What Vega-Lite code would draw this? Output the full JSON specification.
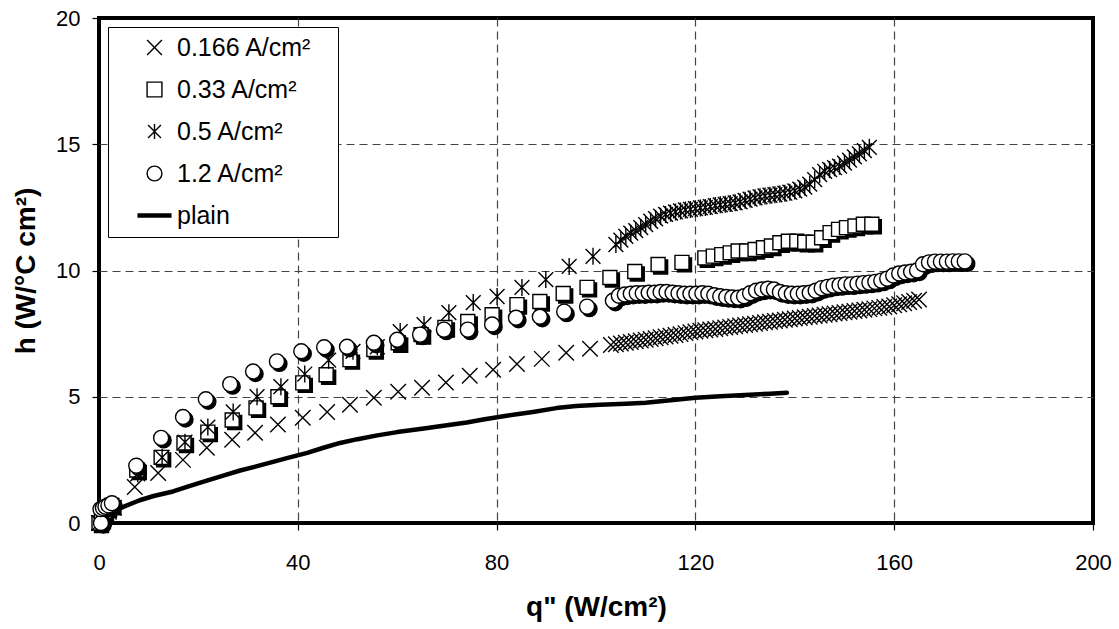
{
  "$schema": "https://vega.github.io/schema/vega-lite/v6.json",
  "width": 994,
  "height": 505,
  "autosize": {"type": "none"},
  "padding": {"left": 99, "top": 18, "right": 26, "bottom": 106},
  "background": "white",
  "config": {
    "font": "Liberation Sans",
    "view": {"stroke": "black", "strokeWidth": 4},
    "axis": {
      "domain": false,
      "grid": true,
      "gridColor": "#444444",
      "gridDash": [8, 5],
      "gridWidth": 1.2,
      "gridOpacity": {"condition": {"test": "datum.value === 0 || datum.value === 200 || datum.value === 20", "value": 0}, "value": 1},
      "ticks": true,
      "tickColor": "black",
      "tickSize": 7,
      "tickWidth": 1.2,
      "labelFont": "Liberation Sans",
      "labelFontSize": 22,
      "labelColor": "black",
      "labelFlush": false,
      "titleFont": "Liberation Sans",
      "titleFontSize": 28,
      "titleFontWeight": "bold",
      "titleColor": "black"
    }
  },
  "datasets": {
    "pts": [
      {"series": "plain", "q": 0, "h": 0},
      {"series": "plain", "q": 1, "h": 0.2},
      {"series": "plain", "q": 2.2, "h": 0.4},
      {"series": "plain", "q": 5, "h": 0.65},
      {"series": "plain", "q": 8.2, "h": 0.9},
      {"series": "plain", "q": 11, "h": 1.07},
      {"series": "plain", "q": 14.9, "h": 1.25},
      {"series": "plain", "q": 18, "h": 1.45},
      {"series": "plain", "q": 21.7, "h": 1.68},
      {"series": "plain", "q": 25, "h": 1.88},
      {"series": "plain", "q": 28.4, "h": 2.08},
      {"series": "plain", "q": 32, "h": 2.26},
      {"series": "plain", "q": 35, "h": 2.42},
      {"series": "plain", "q": 38, "h": 2.58},
      {"series": "plain", "q": 41.9, "h": 2.78},
      {"series": "plain", "q": 45, "h": 2.97},
      {"series": "plain", "q": 48.5, "h": 3.17},
      {"series": "plain", "q": 52, "h": 3.32},
      {"series": "plain", "q": 56, "h": 3.47},
      {"series": "plain", "q": 60, "h": 3.6},
      {"series": "plain", "q": 65, "h": 3.73},
      {"series": "plain", "q": 70, "h": 3.87},
      {"series": "plain", "q": 74, "h": 3.98},
      {"series": "plain", "q": 77.3, "h": 4.1},
      {"series": "plain", "q": 82, "h": 4.25},
      {"series": "plain", "q": 87.3, "h": 4.4},
      {"series": "plain", "q": 92, "h": 4.55},
      {"series": "plain", "q": 96, "h": 4.63},
      {"series": "plain", "q": 100.8, "h": 4.68},
      {"series": "plain", "q": 106, "h": 4.72},
      {"series": "plain", "q": 110, "h": 4.76},
      {"series": "plain", "q": 115, "h": 4.86},
      {"series": "plain", "q": 120, "h": 4.96},
      {"series": "plain", "q": 125, "h": 5.02},
      {"series": "plain", "q": 130, "h": 5.07},
      {"series": "plain", "q": 135, "h": 5.12},
      {"series": "plain", "q": 138.4, "h": 5.16},

      {"series": "0.166 A/cm²", "q": 0, "h": 0},
      {"series": "0.166 A/cm²", "q": 0.6, "h": 0.15},
      {"series": "0.166 A/cm²", "q": 1.2, "h": 0.3},
      {"series": "0.166 A/cm²", "q": 2, "h": 0.45},
      {"series": "0.166 A/cm²", "q": 3, "h": 0.6},
      {"series": "0.166 A/cm²", "q": 7.2, "h": 1.43},
      {"series": "0.166 A/cm²", "q": 11.9, "h": 1.98},
      {"series": "0.166 A/cm²", "q": 16.9, "h": 2.5},
      {"series": "0.166 A/cm²", "q": 21.7, "h": 2.98},
      {"series": "0.166 A/cm²", "q": 26.8, "h": 3.3},
      {"series": "0.166 A/cm²", "q": 31.4, "h": 3.57},
      {"series": "0.166 A/cm²", "q": 36, "h": 3.9},
      {"series": "0.166 A/cm²", "q": 41, "h": 4.17},
      {"series": "0.166 A/cm²", "q": 45.9, "h": 4.4},
      {"series": "0.166 A/cm²", "q": 50.5, "h": 4.68},
      {"series": "0.166 A/cm²", "q": 55.3, "h": 4.96},
      {"series": "0.166 A/cm²", "q": 60.2, "h": 5.2},
      {"series": "0.166 A/cm²", "q": 65, "h": 5.36},
      {"series": "0.166 A/cm²", "q": 69.8, "h": 5.56},
      {"series": "0.166 A/cm²", "q": 74.6, "h": 5.83},
      {"series": "0.166 A/cm²", "q": 79.3, "h": 6.07},
      {"series": "0.166 A/cm²", "q": 84.1, "h": 6.3},
      {"series": "0.166 A/cm²", "q": 89.1, "h": 6.5},
      {"series": "0.166 A/cm²", "q": 94, "h": 6.74},
      {"series": "0.166 A/cm²", "q": 98.8, "h": 6.9},
      {"series": "0.166 A/cm²", "q": 103, "h": 7.05},
      {"series": "0.166 A/cm²", "q": 104, "h": 7.08},
      {"series": "0.166 A/cm²", "q": 105, "h": 7.11},
      {"series": "0.166 A/cm²", "q": 106, "h": 7.14},
      {"series": "0.166 A/cm²", "q": 107, "h": 7.17},
      {"series": "0.166 A/cm²", "q": 108, "h": 7.2},
      {"series": "0.166 A/cm²", "q": 109, "h": 7.23},
      {"series": "0.166 A/cm²", "q": 110, "h": 7.26},
      {"series": "0.166 A/cm²", "q": 111, "h": 7.29},
      {"series": "0.166 A/cm²", "q": 112, "h": 7.32},
      {"series": "0.166 A/cm²", "q": 113, "h": 7.36},
      {"series": "0.166 A/cm²", "q": 114, "h": 7.39},
      {"series": "0.166 A/cm²", "q": 115, "h": 7.42},
      {"series": "0.166 A/cm²", "q": 116, "h": 7.45},
      {"series": "0.166 A/cm²", "q": 117, "h": 7.48},
      {"series": "0.166 A/cm²", "q": 118, "h": 7.52},
      {"series": "0.166 A/cm²", "q": 119, "h": 7.55},
      {"series": "0.166 A/cm²", "q": 120, "h": 7.58},
      {"series": "0.166 A/cm²", "q": 121, "h": 7.61},
      {"series": "0.166 A/cm²", "q": 122, "h": 7.63},
      {"series": "0.166 A/cm²", "q": 123, "h": 7.66},
      {"series": "0.166 A/cm²", "q": 124, "h": 7.68},
      {"series": "0.166 A/cm²", "q": 125, "h": 7.71},
      {"series": "0.166 A/cm²", "q": 126, "h": 7.74},
      {"series": "0.166 A/cm²", "q": 127, "h": 7.76},
      {"series": "0.166 A/cm²", "q": 128, "h": 7.79},
      {"series": "0.166 A/cm²", "q": 129, "h": 7.82},
      {"series": "0.166 A/cm²", "q": 130, "h": 7.84},
      {"series": "0.166 A/cm²", "q": 131, "h": 7.87},
      {"series": "0.166 A/cm²", "q": 132, "h": 7.89},
      {"series": "0.166 A/cm²", "q": 133, "h": 7.92},
      {"series": "0.166 A/cm²", "q": 134, "h": 7.95},
      {"series": "0.166 A/cm²", "q": 135, "h": 7.97},
      {"series": "0.166 A/cm²", "q": 136, "h": 8.0},
      {"series": "0.166 A/cm²", "q": 137, "h": 8.02},
      {"series": "0.166 A/cm²", "q": 138, "h": 8.05},
      {"series": "0.166 A/cm²", "q": 139, "h": 8.07},
      {"series": "0.166 A/cm²", "q": 140, "h": 8.1},
      {"series": "0.166 A/cm²", "q": 141, "h": 8.12},
      {"series": "0.166 A/cm²", "q": 142, "h": 8.15},
      {"series": "0.166 A/cm²", "q": 143, "h": 8.17},
      {"series": "0.166 A/cm²", "q": 144, "h": 8.2},
      {"series": "0.166 A/cm²", "q": 145, "h": 8.22},
      {"series": "0.166 A/cm²", "q": 146, "h": 8.25},
      {"series": "0.166 A/cm²", "q": 147, "h": 8.27},
      {"series": "0.166 A/cm²", "q": 148, "h": 8.3},
      {"series": "0.166 A/cm²", "q": 149, "h": 8.32},
      {"series": "0.166 A/cm²", "q": 150, "h": 8.35},
      {"series": "0.166 A/cm²", "q": 151, "h": 8.37},
      {"series": "0.166 A/cm²", "q": 152, "h": 8.4},
      {"series": "0.166 A/cm²", "q": 153, "h": 8.42},
      {"series": "0.166 A/cm²", "q": 154, "h": 8.45},
      {"series": "0.166 A/cm²", "q": 155, "h": 8.47},
      {"series": "0.166 A/cm²", "q": 156, "h": 8.5},
      {"series": "0.166 A/cm²", "q": 157, "h": 8.52},
      {"series": "0.166 A/cm²", "q": 158, "h": 8.55},
      {"series": "0.166 A/cm²", "q": 159, "h": 8.57},
      {"series": "0.166 A/cm²", "q": 160, "h": 8.62},
      {"series": "0.166 A/cm²", "q": 161, "h": 8.66},
      {"series": "0.166 A/cm²", "q": 162, "h": 8.7},
      {"series": "0.166 A/cm²", "q": 163, "h": 8.75},
      {"series": "0.166 A/cm²", "q": 164, "h": 8.8},
      {"series": "0.166 A/cm²", "q": 165, "h": 8.85},

      {"series": "0.33 A/cm²", "q": 0, "h": 0},
      {"series": "0.33 A/cm²", "q": 0.5, "h": 0.25},
      {"series": "0.33 A/cm²", "q": 1, "h": 0.45},
      {"series": "0.33 A/cm²", "q": 1.6, "h": 0.6},
      {"series": "0.33 A/cm²", "q": 2.5, "h": 0.7},
      {"series": "0.33 A/cm²", "q": 7.6, "h": 2.1},
      {"series": "0.33 A/cm²", "q": 12.5, "h": 2.6},
      {"series": "0.33 A/cm²", "q": 17.1, "h": 3.17},
      {"series": "0.33 A/cm²", "q": 21.9, "h": 3.6},
      {"series": "0.33 A/cm²", "q": 26.8, "h": 4.08},
      {"series": "0.33 A/cm²", "q": 31.6, "h": 4.56},
      {"series": "0.33 A/cm²", "q": 36, "h": 5.0},
      {"series": "0.33 A/cm²", "q": 41, "h": 5.55},
      {"series": "0.33 A/cm²", "q": 45.7, "h": 5.87},
      {"series": "0.33 A/cm²", "q": 50.5, "h": 6.47},
      {"series": "0.33 A/cm²", "q": 55.3, "h": 6.87},
      {"series": "0.33 A/cm²", "q": 60.2, "h": 7.14},
      {"series": "0.33 A/cm²", "q": 64.8, "h": 7.46},
      {"series": "0.33 A/cm²", "q": 69.6, "h": 7.74},
      {"series": "0.33 A/cm²", "q": 74.2, "h": 7.98},
      {"series": "0.33 A/cm²", "q": 79.1, "h": 8.25},
      {"series": "0.33 A/cm²", "q": 84.1, "h": 8.65},
      {"series": "0.33 A/cm²", "q": 88.7, "h": 8.77},
      {"series": "0.33 A/cm²", "q": 93.4, "h": 9.09},
      {"series": "0.33 A/cm²", "q": 98.2, "h": 9.33},
      {"series": "0.33 A/cm²", "q": 102.8, "h": 9.72},
      {"series": "0.33 A/cm²", "q": 107.8, "h": 9.96},
      {"series": "0.33 A/cm²", "q": 112.5, "h": 10.24},
      {"series": "0.33 A/cm²", "q": 117.3, "h": 10.32},
      {"series": "0.33 A/cm²", "q": 121.9, "h": 10.5},
      {"series": "0.33 A/cm²", "q": 123.6, "h": 10.57},
      {"series": "0.33 A/cm²", "q": 125.3, "h": 10.63},
      {"series": "0.33 A/cm²", "q": 127.0, "h": 10.7},
      {"series": "0.33 A/cm²", "q": 128.6, "h": 10.77},
      {"series": "0.33 A/cm²", "q": 130.3, "h": 10.77},
      {"series": "0.33 A/cm²", "q": 132.0, "h": 10.83},
      {"series": "0.33 A/cm²", "q": 133.7, "h": 10.9},
      {"series": "0.33 A/cm²", "q": 135.3, "h": 10.97},
      {"series": "0.33 A/cm²", "q": 137.0, "h": 11.1},
      {"series": "0.33 A/cm²", "q": 138.7, "h": 11.16},
      {"series": "0.33 A/cm²", "q": 140.4, "h": 11.16},
      {"series": "0.33 A/cm²", "q": 142.0, "h": 11.12},
      {"series": "0.33 A/cm²", "q": 143.7, "h": 11.12},
      {"series": "0.33 A/cm²", "q": 145.4, "h": 11.3},
      {"series": "0.33 A/cm²", "q": 147.1, "h": 11.5},
      {"series": "0.33 A/cm²", "q": 148.8, "h": 11.63},
      {"series": "0.33 A/cm²", "q": 150.4, "h": 11.7},
      {"series": "0.33 A/cm²", "q": 152.1, "h": 11.76},
      {"series": "0.33 A/cm²", "q": 153.8, "h": 11.83},
      {"series": "0.33 A/cm²", "q": 155.5, "h": 11.83},

      {"series": "0.5 A/cm²", "q": 0, "h": 0},
      {"series": "0.5 A/cm²", "q": 0.8, "h": 0.35},
      {"series": "0.5 A/cm²", "q": 1.6, "h": 0.55},
      {"series": "0.5 A/cm²", "q": 2.6, "h": 0.7},
      {"series": "0.5 A/cm²", "q": 7.8, "h": 1.95},
      {"series": "0.5 A/cm²", "q": 12.7, "h": 2.6},
      {"series": "0.5 A/cm²", "q": 17.3, "h": 3.2},
      {"series": "0.5 A/cm²", "q": 21.9, "h": 3.8},
      {"series": "0.5 A/cm²", "q": 27, "h": 4.4},
      {"series": "0.5 A/cm²", "q": 31.8, "h": 5.0},
      {"series": "0.5 A/cm²", "q": 36.6, "h": 5.4},
      {"series": "0.5 A/cm²", "q": 41.4, "h": 5.9},
      {"series": "0.5 A/cm²", "q": 46.2, "h": 6.45},
      {"series": "0.5 A/cm²", "q": 51.1, "h": 6.8},
      {"series": "0.5 A/cm²", "q": 56, "h": 6.98},
      {"series": "0.5 A/cm²", "q": 60.6, "h": 7.58},
      {"series": "0.5 A/cm²", "q": 65.4, "h": 7.86},
      {"series": "0.5 A/cm²", "q": 70.4, "h": 8.33},
      {"series": "0.5 A/cm²", "q": 75.3, "h": 8.73},
      {"series": "0.5 A/cm²", "q": 80.1, "h": 8.97},
      {"series": "0.5 A/cm²", "q": 85.1, "h": 9.33},
      {"series": "0.5 A/cm²", "q": 89.9, "h": 9.64},
      {"series": "0.5 A/cm²", "q": 94.6, "h": 10.16},
      {"series": "0.5 A/cm²", "q": 99.4, "h": 10.56},
      {"series": "0.5 A/cm²", "q": 104, "h": 11.03},
      {"series": "0.5 A/cm²", "q": 105, "h": 11.2},
      {"series": "0.5 A/cm²", "q": 106, "h": 11.35},
      {"series": "0.5 A/cm²", "q": 107, "h": 11.48},
      {"series": "0.5 A/cm²", "q": 108, "h": 11.58},
      {"series": "0.5 A/cm²", "q": 109, "h": 11.7},
      {"series": "0.5 A/cm²", "q": 110, "h": 11.82},
      {"series": "0.5 A/cm²", "q": 111, "h": 11.95},
      {"series": "0.5 A/cm²", "q": 112, "h": 12.05},
      {"series": "0.5 A/cm²", "q": 113, "h": 12.15},
      {"series": "0.5 A/cm²", "q": 114, "h": 12.22},
      {"series": "0.5 A/cm²", "q": 115, "h": 12.27},
      {"series": "0.5 A/cm²", "q": 116, "h": 12.32},
      {"series": "0.5 A/cm²", "q": 117, "h": 12.36},
      {"series": "0.5 A/cm²", "q": 118, "h": 12.4},
      {"series": "0.5 A/cm²", "q": 119, "h": 12.42},
      {"series": "0.5 A/cm²", "q": 120, "h": 12.45},
      {"series": "0.5 A/cm²", "q": 121, "h": 12.48},
      {"series": "0.5 A/cm²", "q": 122, "h": 12.5},
      {"series": "0.5 A/cm²", "q": 123, "h": 12.53},
      {"series": "0.5 A/cm²", "q": 124, "h": 12.57},
      {"series": "0.5 A/cm²", "q": 125, "h": 12.6},
      {"series": "0.5 A/cm²", "q": 126, "h": 12.62},
      {"series": "0.5 A/cm²", "q": 127, "h": 12.65},
      {"series": "0.5 A/cm²", "q": 128, "h": 12.68},
      {"series": "0.5 A/cm²", "q": 129, "h": 12.72},
      {"series": "0.5 A/cm²", "q": 130, "h": 12.78},
      {"series": "0.5 A/cm²", "q": 131, "h": 12.83},
      {"series": "0.5 A/cm²", "q": 132, "h": 12.88},
      {"series": "0.5 A/cm²", "q": 133, "h": 12.92},
      {"series": "0.5 A/cm²", "q": 134, "h": 12.95},
      {"series": "0.5 A/cm²", "q": 135, "h": 12.98},
      {"series": "0.5 A/cm²", "q": 136, "h": 13.0},
      {"series": "0.5 A/cm²", "q": 137, "h": 13.03},
      {"series": "0.5 A/cm²", "q": 138, "h": 13.06},
      {"series": "0.5 A/cm²", "q": 139, "h": 13.1},
      {"series": "0.5 A/cm²", "q": 140, "h": 13.15},
      {"series": "0.5 A/cm²", "q": 141, "h": 13.22},
      {"series": "0.5 A/cm²", "q": 142, "h": 13.3},
      {"series": "0.5 A/cm²", "q": 143, "h": 13.42},
      {"series": "0.5 A/cm²", "q": 144, "h": 13.6},
      {"series": "0.5 A/cm²", "q": 145, "h": 13.8},
      {"series": "0.5 A/cm²", "q": 146, "h": 13.93},
      {"series": "0.5 A/cm²", "q": 147, "h": 14.0},
      {"series": "0.5 A/cm²", "q": 148, "h": 14.07},
      {"series": "0.5 A/cm²", "q": 149, "h": 14.13},
      {"series": "0.5 A/cm²", "q": 150, "h": 14.25},
      {"series": "0.5 A/cm²", "q": 151, "h": 14.37},
      {"series": "0.5 A/cm²", "q": 152, "h": 14.5},
      {"series": "0.5 A/cm²", "q": 153, "h": 14.62},
      {"series": "0.5 A/cm²", "q": 154, "h": 14.75},
      {"series": "0.5 A/cm²", "q": 155, "h": 14.88},

      {"series": "1.2 A/cm²", "q": 0.4, "h": 0},
      {"series": "1.2 A/cm²", "q": 0.3, "h": 0.55},
      {"series": "1.2 A/cm²", "q": 0.8, "h": 0.6},
      {"series": "1.2 A/cm²", "q": 1.3, "h": 0.65},
      {"series": "1.2 A/cm²", "q": 1.9, "h": 0.7},
      {"series": "1.2 A/cm²", "q": 2.6, "h": 0.78},
      {"series": "1.2 A/cm²", "q": 7.5, "h": 2.27},
      {"series": "1.2 A/cm²", "q": 12.5, "h": 3.37},
      {"series": "1.2 A/cm²", "q": 16.9, "h": 4.2},
      {"series": "1.2 A/cm²", "q": 21.5, "h": 4.9},
      {"series": "1.2 A/cm²", "q": 26.4, "h": 5.5},
      {"series": "1.2 A/cm²", "q": 31, "h": 6.0},
      {"series": "1.2 A/cm²", "q": 35.8, "h": 6.4},
      {"series": "1.2 A/cm²", "q": 40.7, "h": 6.8},
      {"series": "1.2 A/cm²", "q": 45.3, "h": 6.96},
      {"series": "1.2 A/cm²", "q": 49.9, "h": 6.98},
      {"series": "1.2 A/cm²", "q": 55.3, "h": 7.14},
      {"series": "1.2 A/cm²", "q": 60, "h": 7.26},
      {"series": "1.2 A/cm²", "q": 64.6, "h": 7.46},
      {"series": "1.2 A/cm²", "q": 69.4, "h": 7.66},
      {"series": "1.2 A/cm²", "q": 74.2, "h": 7.66},
      {"series": "1.2 A/cm²", "q": 79.1, "h": 7.86},
      {"series": "1.2 A/cm²", "q": 83.9, "h": 8.13},
      {"series": "1.2 A/cm²", "q": 88.7, "h": 8.17},
      {"series": "1.2 A/cm²", "q": 93.6, "h": 8.37},
      {"series": "1.2 A/cm²", "q": 98.2, "h": 8.57},
      {"series": "1.2 A/cm²", "q": 103.4, "h": 8.8},
      {"series": "1.2 A/cm²", "q": 104.6, "h": 9.0},
      {"series": "1.2 A/cm²", "q": 105.8, "h": 9.05},
      {"series": "1.2 A/cm²", "q": 107.0, "h": 9.08},
      {"series": "1.2 A/cm²", "q": 108.2, "h": 9.1},
      {"series": "1.2 A/cm²", "q": 109.4, "h": 9.1},
      {"series": "1.2 A/cm²", "q": 110.6, "h": 9.12},
      {"series": "1.2 A/cm²", "q": 111.8, "h": 9.12},
      {"series": "1.2 A/cm²", "q": 113.0, "h": 9.15},
      {"series": "1.2 A/cm²", "q": 114.2, "h": 9.15},
      {"series": "1.2 A/cm²", "q": 115.4, "h": 9.12},
      {"series": "1.2 A/cm²", "q": 116.6, "h": 9.1},
      {"series": "1.2 A/cm²", "q": 117.8, "h": 9.08},
      {"series": "1.2 A/cm²", "q": 119.0, "h": 9.08},
      {"series": "1.2 A/cm²", "q": 120.2, "h": 9.08},
      {"series": "1.2 A/cm²", "q": 121.4, "h": 9.1},
      {"series": "1.2 A/cm²", "q": 122.6, "h": 9.08},
      {"series": "1.2 A/cm²", "q": 123.8, "h": 9.02},
      {"series": "1.2 A/cm²", "q": 125.0, "h": 8.98},
      {"series": "1.2 A/cm²", "q": 126.2, "h": 8.95},
      {"series": "1.2 A/cm²", "q": 127.4, "h": 8.93},
      {"series": "1.2 A/cm²", "q": 128.6, "h": 8.92},
      {"series": "1.2 A/cm²", "q": 129.8, "h": 8.98},
      {"series": "1.2 A/cm²", "q": 131.0, "h": 9.1},
      {"series": "1.2 A/cm²", "q": 132.2, "h": 9.2},
      {"series": "1.2 A/cm²", "q": 133.4, "h": 9.25},
      {"series": "1.2 A/cm²", "q": 134.6, "h": 9.28},
      {"series": "1.2 A/cm²", "q": 135.8, "h": 9.25},
      {"series": "1.2 A/cm²", "q": 137.0, "h": 9.15},
      {"series": "1.2 A/cm²", "q": 138.2, "h": 9.1},
      {"series": "1.2 A/cm²", "q": 139.4, "h": 9.08},
      {"series": "1.2 A/cm²", "q": 140.6, "h": 9.08},
      {"series": "1.2 A/cm²", "q": 141.8, "h": 9.1},
      {"series": "1.2 A/cm²", "q": 143.0, "h": 9.12},
      {"series": "1.2 A/cm²", "q": 144.2, "h": 9.2},
      {"series": "1.2 A/cm²", "q": 145.4, "h": 9.3},
      {"series": "1.2 A/cm²", "q": 146.6, "h": 9.35},
      {"series": "1.2 A/cm²", "q": 147.8, "h": 9.4},
      {"series": "1.2 A/cm²", "q": 149.0, "h": 9.42},
      {"series": "1.2 A/cm²", "q": 150.2, "h": 9.45},
      {"series": "1.2 A/cm²", "q": 151.4, "h": 9.45},
      {"series": "1.2 A/cm²", "q": 152.6, "h": 9.48},
      {"series": "1.2 A/cm²", "q": 153.8, "h": 9.5},
      {"series": "1.2 A/cm²", "q": 155.0, "h": 9.52},
      {"series": "1.2 A/cm²", "q": 156.2, "h": 9.55},
      {"series": "1.2 A/cm²", "q": 157.4, "h": 9.6},
      {"series": "1.2 A/cm²", "q": 158.6, "h": 9.68},
      {"series": "1.2 A/cm²", "q": 159.8, "h": 9.8},
      {"series": "1.2 A/cm²", "q": 161.0, "h": 9.88},
      {"series": "1.2 A/cm²", "q": 162.2, "h": 9.92},
      {"series": "1.2 A/cm²", "q": 163.4, "h": 9.95},
      {"series": "1.2 A/cm²", "q": 164.6, "h": 10.0},
      {"series": "1.2 A/cm²", "q": 165.8, "h": 10.25},
      {"series": "1.2 A/cm²", "q": 167.0, "h": 10.32},
      {"series": "1.2 A/cm²", "q": 168.2, "h": 10.35},
      {"series": "1.2 A/cm²", "q": 169.4, "h": 10.35},
      {"series": "1.2 A/cm²", "q": 170.6, "h": 10.35},
      {"series": "1.2 A/cm²", "q": 171.8, "h": 10.36},
      {"series": "1.2 A/cm²", "q": 173.0, "h": 10.36},
      {"series": "1.2 A/cm²", "q": 174.2, "h": 10.36}
    ]
  },
  "data": {"name": "pts"},
  "encoding": {
    "x": {
      "field": "q", "type": "quantitative",
      "scale": {"domain": [0, 200], "nice": false, "zero": false},
      "axis": {"title": "q\" (W/cm²)", "values": [0, 40, 80, 120, 160, 200], "labelPadding": 22, "titlePadding": 20}
    },
    "y": {
      "field": "h", "type": "quantitative",
      "scale": {"domain": [0, 20], "nice": false},
      "axis": {"title": "h (W/°C cm²)", "values": [0, 5, 10, 15, 20], "labelPadding": 12, "titlePadding": 15}
    }
  },
  "layer": [
    {
      "transform": [{"filter": "datum.series === 'plain'"}],
      "mark": {"type": "line", "color": "black", "strokeWidth": 4.5, "strokeCap": "round", "strokeJoin": "round"},
      "encoding": {"order": {"field": "q", "type": "quantitative"}}
    },
    {
      "transform": [{"filter": "datum.series === '0.166 A/cm²'"}],
      "mark": {"type": "point", "filled": true, "fill": "white", "stroke": "black", "strokeWidth": 1.4, "size": 240, "opacity": 1},
      "encoding": {
        "shape": {
          "field": "series", "type": "nominal",
          "scale": {
            "domain": ["0.166 A/cm²", "0.33 A/cm²", "0.5 A/cm²", "1.2 A/cm²", "plain"],
            "range": ["M-1,-1L1,1M-1,1L1,-1", "square", "M-0.87,-0.87L0.87,0.87M-0.87,0.87L0.87,-0.87M0,-1L0,1", "circle", "M-2.3,-0.2L2.3,-0.2M-2.3,0L2.3,0M-2.3,0.2L2.3,0.2"]
          },
          "legend": {
            "title": null,
            "orient": "none",
            "legendX": 9,
            "legendY": 9,
            "direction": "vertical",
            "strokeColor": "black",
            "fillColor": "white",
            "padding": 8,
            "symbolSize": 220,
            "symbolOffset": 26,
            "labelOffset": 10,
            "labelFont": "Liberation Sans",
            "labelFontSize": 25,
            "labelColor": "black",
            "labelLimit": 400,
            "labelExpr": "datum.label + '\u2800'",
            "rowPadding": 16,
            "symbolStrokeWidth": 1.4
          }
        }
      }
    },
    {
      "transform": [{"filter": "datum.series === '0.33 A/cm²'"}],
      "mark": {"type": "point", "filled": true, "fill": "black", "stroke": "black", "strokeWidth": 1.4, "size": 196, "opacity": 1, "xOffset": 2.5, "yOffset": 2.5},
      "encoding": {"shape": {"field": "series", "type": "nominal"}}
    },
    {
      "transform": [{"filter": "datum.series === '0.33 A/cm²'"}],
      "mark": {"type": "point", "filled": true, "fill": "white", "stroke": "black", "strokeWidth": 1.4, "size": 196, "opacity": 1},
      "encoding": {"shape": {"field": "series", "type": "nominal"}}
    },
    {
      "transform": [{"filter": "datum.series === '0.5 A/cm²'"}],
      "mark": {"type": "point", "filled": true, "fill": "white", "stroke": "black", "strokeWidth": 1.4, "size": 289, "opacity": 1},
      "encoding": {"shape": {"field": "series", "type": "nominal"}}
    },
    {
      "transform": [{"filter": "datum.series === '1.2 A/cm²'"}],
      "mark": {"type": "point", "filled": true, "fill": "black", "stroke": "black", "strokeWidth": 1.4, "size": 225, "opacity": 1, "xOffset": 2.5, "yOffset": 2.5},
      "encoding": {"shape": {"field": "series", "type": "nominal"}}
    },
    {
      "transform": [{"filter": "datum.series === '1.2 A/cm²'"}],
      "mark": {"type": "point", "filled": true, "fill": "white", "stroke": "black", "strokeWidth": 1.4, "size": 225, "opacity": 1},
      "encoding": {"shape": {"field": "series", "type": "nominal"}}
    }
  ]
}
